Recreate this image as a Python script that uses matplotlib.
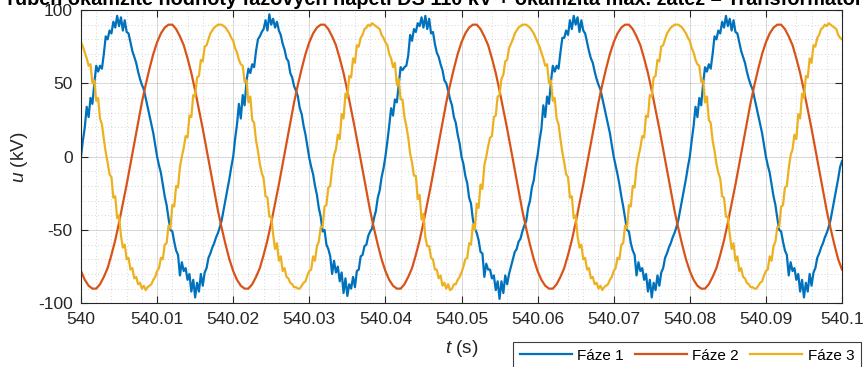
import numpy as np
import matplotlib.pyplot as plt
from matplotlib.ticker import FuncFormatter, MultipleLocator

plt.rcParams["font.family"] = ["Liberation Sans", "DejaVu Sans"]
plt.rcParams["mathtext.fontset"] = "custom"
plt.rcParams["mathtext.it"] = "Liberation Sans:italic"
plt.rcParams["mathtext.rm"] = "Liberation Sans"
plt.rcParams["axes.unicode_minus"] = False

TITLE = "Průběh okamžité hodnoty fázových napětí DS 110 kV + okamžitá max. zátěž – Transformátor"
SERIES = ["Fáze 1", "Fáze 2", "Fáze 3"]
COLORS = ["#0072BD", "#D95319", "#EDB120"]

T_START, T_END = 540.0, 540.1
X_TICKS = [540, 540.01, 540.02, 540.03, 540.04, 540.05, 540.06, 540.07, 540.08, 540.09, 540.1]
Y_TICKS = [-100, -50, 0, 50, 100]

# phase 1 (kV), sampled every 0.25 ms
PHASE1_KV = [
    0, 11, 20, 34, 27, 40, 36, 50, 62, 58, 62, 60, 70, 82, 80, 86, 84, 92, 88, 96,
    89, 95, 86, 93, 85, 84, 78, 72, 68, 64, 58, 53, 49, 46, 40, 34, 28, 22, 16, 8,
    0, -6, -11, -19, -27, -33, -42, -50, -51, -58, -64, -67, -81, -72, -78, -76, -84, -80, -92, -84,
    -96, -86, -92, -80, -88, -79, -76, -69, -66, -62, -59, -55, -52, -48, -43, -36, -29, -22, -15, -7,
    0, 12, 22, 36, 26, 42, 35, 52, 60, 57, 63, 61, 72, 80, 82, 85, 87, 93, 86, 97,
    90, 94, 88, 92, 86, 83, 77, 73, 67, 65, 57, 54, 48, 45, 41, 33, 29, 21, 15, 7,
    -1, -7, -12, -20, -26, -35, -41, -51, -50, -60, -63, -68, -80, -71, -79, -75, -85, -79, -93, -83,
    -95, -87, -90, -82, -89, -78, -77, -68, -67, -61, -60, -54, -51, -49, -42, -37, -28, -23, -14, -8,
    0, 10, 21, 33, 28, 39, 37, 49, 61, 59, 61, 62, 69, 83, 79, 87, 85, 91, 89, 95,
    88, 96, 87, 94, 84, 85, 77, 71, 68, 63, 59, 52, 50, 45, 39, 35, 27, 23, 15, 9,
    0, -5, -13, -18, -28, -32, -43, -49, -52, -57, -65, -66, -82, -73, -77, -77, -83, -81, -91, -85,
    -97, -85, -93, -81, -87, -80, -75, -70, -65, -63, -58, -56, -51, -47, -44, -35, -30, -21, -16, -6,
    1, 11, 19, 35, 27, 41, 36, 51, 62, 58, 62, 60, 71, 81, 81, 86, 83, 93, 87, 96,
    90, 95, 85, 93, 86, 84, 78, 72, 67, 64, 58, 53, 49, 46, 40, 34, 28, 22, 16, 8,
    0, -6, -12, -19, -27, -34, -42, -50, -51, -59, -64, -67, -81, -72, -78, -76, -84, -80, -92, -84,
    -96, -86, -91, -81, -88, -79, -76, -69, -66, -62, -59, -55, -52, -48, -43, -36, -29, -22, -15, -7,
    0, 11, 21, 34, 27, 40, 35, 50, 61, 58, 63, 60, 70, 82, 80, 86, 84, 92, 88, 96,
    89, 94, 86, 93, 85, 84, 78, 72, 68, 64, 58, 53, 49, 46, 40, 34, 28, 22, 16, 8,
    0, -6, -11, -19, -27, -33, -42, -50, -51, -58, -64, -67, -81, -72, -78, -76, -84, -80, -92, -84,
    -96, -86, -92, -80, -88, -79, -76, -69, -66, -62, -59, -55, -52, -48, -43, -36, -29, -22, -15, -7,
    -3,
]

# phase 2 (kV), sampled every 0.5 ms
PHASE2_KV = [
    -78, -84, -88, -90, -90, -87, -82, -76, -67, -57, -45, -32, -19, -5, 9, 23, 37, 49, 60, 70,
    78, 84, 88, 90, 90, 87, 82, 76, 67, 57, 45, 32, 19, 5, -9, -23, -37, -49, -60, -70,
    -78, -84, -88, -90, -90, -87, -82, -76, -67, -57, -45, -32, -19, -5, 9, 23, 37, 49, 60, 70,
    78, 84, 88, 90, 90, 87, 82, 76, 67, 57, 45, 32, 19, 5, -9, -23, -37, -49, -60, -70,
    -78, -84, -88, -90, -90, -87, -82, -76, -67, -57, -45, -32, -19, -5, 9, 23, 37, 49, 60, 70,
    78, 84, 88, 90, 90, 87, 82, 76, 67, 57, 45, 32, 19, 5, -9, -23, -37, -49, -60, -70,
    -78, -84, -88, -90, -90, -87, -82, -76, -67, -57, -45, -32, -19, -5, 9, 23, 37, 49, 60, 70,
    78, 84, 88, 90, 90, 87, 82, 76, 67, 57, 45, 32, 19, 5, -9, -23, -37, -49, -60, -70,
    -78, -84, -88, -90, -90, -87, -82, -76, -67, -57, -45, -32, -19, -5, 9, 23, 37, 49, 60, 70,
    78, 84, 88, 90, 90, 87, 82, 76, 67, 57, 45, 32, 19, 5, -9, -23, -37, -49, -60, -70,
    -77,
]

# phase 3 (kV), sampled every 0.25 ms
PHASE3_KV = [
    78, 75, 71, 67, 62, 63, 50, 52, 38, 40, 26, 22, 12, 3, -4, -12, -14, -28, -27, -42,
    -40, -54, -62, -60, -70, -69, -77, -76, -83, -82, -87, -86, -90, -88, -91, -89, -88, -87, -84, -82,
    -78, -76, -69, -70, -60, -59, -47, -49, -33, -34, -20, -21, -7, 0, 6, 14, 13, 28, 27, 42,
    41, 54, 55, 66, 65, 75, 76, 80, 84, 86, 88, 89, 90, 90, 90, 89, 88, 86, 84, 81,
    79, 74, 71, 66, 63, 62, 51, 52, 37, 41, 25, 23, 11, 4, -5, -11, -15, -27, -28, -41,
    -41, -53, -63, -59, -71, -68, -78, -76, -82, -83, -86, -87, -89, -89, -90, -90, -88, -86, -85, -81,
    -78, -77, -68, -71, -61, -58, -48, -48, -34, -33, -21, -20, -8, 1, 5, 15, 12, 29, 26, 43,
    40, 55, 54, 67, 64, 76, 75, 81, 83, 87, 88, 90, 89, 91, 90, 89, 88, 87, 83, 81,
    78, 76, 70, 67, 61, 64, 49, 53, 39, 39, 27, 21, 13, 2, -4, -13, -13, -29, -26, -43,
    -39, -55, -61, -61, -69, -70, -77, -77, -83, -81, -88, -86, -90, -87, -91, -90, -87, -87, -84, -82,
    -79, -75, -70, -69, -59, -60, -46, -50, -32, -35, -19, -22, -6, 0, 7, 13, 14, 27, 28, 41,
    42, 53, 56, 65, 66, 74, 77, 80, 84, 86, 88, 89, 90, 90, 90, 89, 88, 86, 84, 81,
    78, 75, 71, 67, 62, 63, 50, 52, 38, 40, 26, 22, 12, 3, -4, -12, -14, -28, -27, -42,
    -40, -54, -62, -60, -70, -69, -77, -76, -83, -82, -87, -86, -90, -88, -91, -89, -88, -87, -84, -82,
    -78, -76, -69, -70, -60, -59, -47, -49, -33, -34, -20, -21, -7, 0, 6, 14, 13, 28, 27, 42,
    41, 54, 55, 66, 65, 75, 76, 80, 84, 86, 88, 89, 90, 90, 90, 89, 88, 86, 84, 81,
    79, 74, 71, 66, 63, 62, 51, 52, 37, 41, 25, 23, 11, 4, -5, -11, -15, -27, -28, -41,
    -41, -53, -63, -59, -71, -68, -78, -76, -82, -83, -86, -87, -89, -89, -90, -90, -88, -86, -85, -81,
    -78, -77, -68, -71, -61, -58, -48, -48, -34, -33, -21, -20, -8, 1, 5, 15, 12, 29, 26, 43,
    40, 55, 54, 67, 64, 76, 75, 81, 83, 87, 88, 90, 89, 91, 90, 89, 88, 87, 83, 81,
    80,
]

AX_COLOR = "#262626"
W, H = 865, 367


def main():
    fig = plt.figure(figsize=(W / 100, H / 100), dpi=100)
    ax = fig.add_axes([81 / W, 1 - 303.3 / H, (842 - 81) / W, (303.3 - 10) / H])

    t1 = np.linspace(T_START, T_END, len(PHASE1_KV))
    t2 = np.linspace(T_START, T_END, len(PHASE2_KV))
    t3 = np.linspace(T_START, T_END, len(PHASE3_KV))
    lines = []
    for t, v, c, lab in zip([t1, t2, t3], [PHASE1_KV, PHASE2_KV, PHASE3_KV], COLORS, SERIES):
        (ln,) = ax.plot(t, v, color=c, lw=1.6, label=lab, solid_joinstyle="round")
        lines.append(ln)

    ax.set_xlim(T_START, T_END)
    ax.set_ylim(-100, 100)
    ax.set_xticks(X_TICKS)
    ax.set_yticks(Y_TICKS)
    ax.xaxis.set_major_formatter(FuncFormatter(lambda v, p: f"{v:g}"))
    ax.xaxis.set_minor_locator(MultipleLocator(0.002))
    ax.yaxis.set_minor_locator(MultipleLocator(10))

    ax.grid(True, which="major", color=AX_COLOR, alpha=0.18, lw=0.7)
    ax.grid(True, which="minor", color=AX_COLOR, alpha=0.25, lw=0.6, ls=(0, (1, 3)))
    ax.set_axisbelow(True)

    ax.tick_params(which="major", direction="in", length=5, width=0.8, top=True, right=True,
                   colors=AX_COLOR, labelsize=12.5, pad=6)
    ax.tick_params(which="minor", length=0, top=True, right=True)
    for s in ax.spines.values():
        s.set_color(AX_COLOR)
        s.set_linewidth(0.8)

    ax.set_xlabel("$t$ (s)", fontsize=13.75, color=AX_COLOR, labelpad=8)
    ax.set_ylabel("$u$ (kV)", fontsize=13.75, color=AX_COLOR, labelpad=6)

    # title sits mostly above the figure edge, as in the source export
    fig.text(428 / W, 1 - 5 / H, TITLE, ha="center", va="baseline", fontsize=14.3,
             fontweight="bold", color="black")

    leg = fig.legend(lines, SERIES, loc="upper left", bbox_to_anchor=(512.7 / W, 1 - 341.7 / H),
                     ncol=3, fontsize=11, handlelength=3.4, handletextpad=0.35,
                     columnspacing=0.75, borderaxespad=0, borderpad=0.45, fancybox=False,
                     framealpha=1, edgecolor="#404040")
    leg.get_frame().set_linewidth(0.8)

    fig.savefig("out.png", dpi=100)


if __name__ == "__main__":
    main()
